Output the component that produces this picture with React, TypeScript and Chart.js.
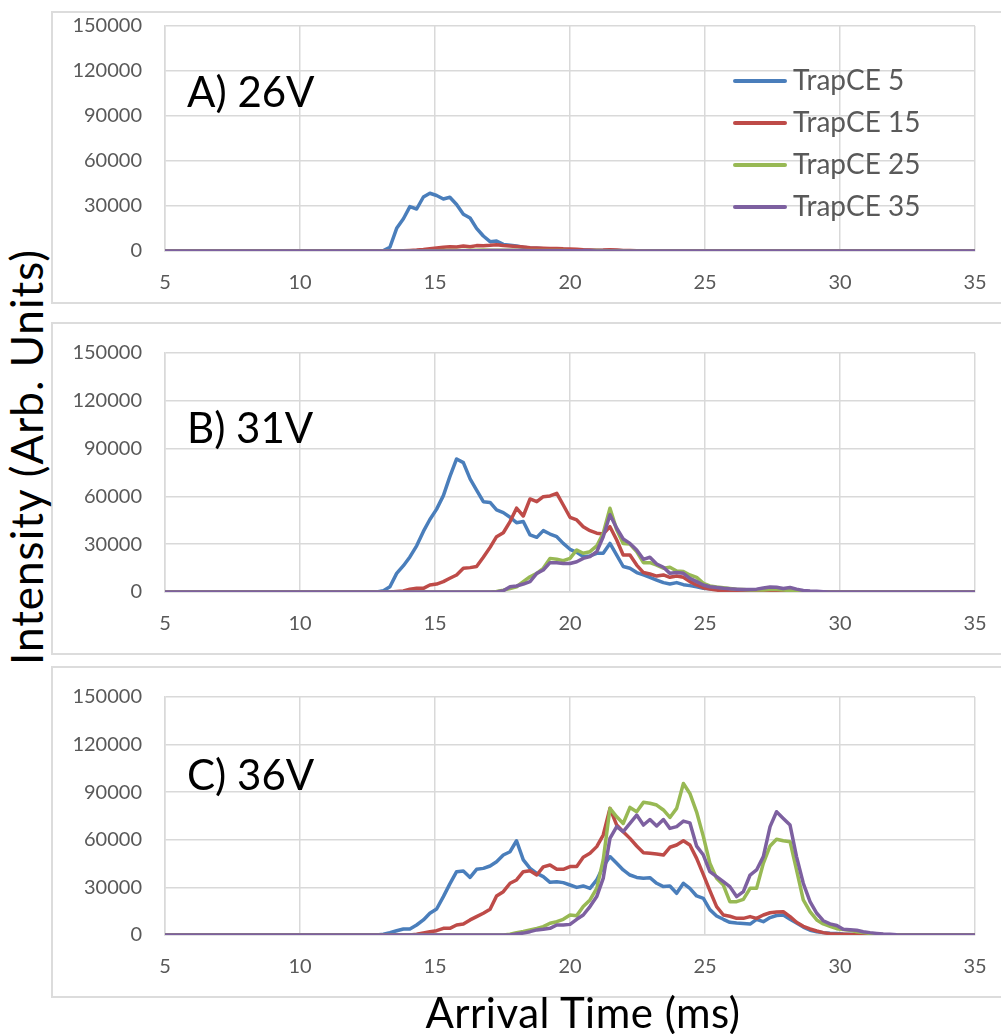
import React, { useEffect, useRef } from "react";
import { Chart, registerables } from "chart.js";

Chart.register(...registerables);

// ---------- DATA ----------
const SERIES_NAMES = ["TrapCE 5", "TrapCE 15", "TrapCE 25", "TrapCE 35"];
const X_TICKS = [5, 10, 15, 20, 25, 30, 35];
const Y_TICKS = [0, 30000, 60000, 90000, 120000, 150000];

// arrival time (ms)
const TIME = [
  5, 12.84, 13.09, 13.33, 13.58, 13.83, 14.07, 14.32, 14.57, 14.81, 15.06,
  15.31, 15.55, 15.8, 16.05, 16.3, 16.54, 16.79, 17.04, 17.28, 17.53,
  17.78, 18.02, 18.27, 18.52, 18.77, 19.01, 19.26, 19.51, 19.75, 20.0,
  20.25, 20.49, 20.74, 20.99, 21.23, 21.48, 21.73, 21.97, 22.22, 22.47,
  22.72, 22.96, 23.21, 23.46, 23.7, 23.95, 24.2, 24.44, 24.69, 24.94,
  25.18, 25.43, 25.68, 25.92, 26.17, 26.42, 26.67, 26.91, 27.16, 27.41,
  27.65, 27.9, 28.15, 28.39, 28.64, 28.89, 29.14, 29.38, 29.63, 29.88,
  30.12, 30.37, 30.62, 30.86, 31.11, 31.36, 31.6, 31.85, 32.1, 35,
];

// Panel A) 26V
const A_TRAP5 = [
  0, 0, 300, 2500, 15100, 21500, 29600, 28000, 36000, 38500, 37000,
  34700, 35800, 31000, 24500, 22000, 15100, 10000, 6200, 6700, 4400,
  3800, 3300, 2500, 2000, 1800, 1500, 1300, 1100, 1000, 800,
  700, 600, 500, 400, 400, 300, 300, 200, 200, 100,
  0, 0, 0, 0, 0, 0, 0, 0, 0, 0,
  0, 0, 0, 0, 0, 0, 0, 0, 0, 0,
  0, 0, 0, 0, 0, 0, 0, 0, 0, 0,
  0, 0, 0, 0, 0, 0, 0, 0, 0, 0,
];
const A_TRAP15 = [
  0, 0, 0, 0, 0, 200, 400, 600, 1000, 1500, 2000,
  2500, 2800, 2600, 3300, 2800, 3600, 3500, 3800, 4200, 3600,
  3300, 3000, 2600, 2200, 2000, 1800, 1600, 1700, 1500, 1400,
  1200, 900, 700, 500, 600, 900, 700, 400, 300, 200,
  100, 0, 0, 0, 0, 0, 0, 0, 0, 0,
  0, 0, 0, 0, 0, 0, 0, 0, 0, 0,
  0, 0, 0, 0, 0, 0, 0, 0, 0, 0,
  0, 0, 0, 0, 0, 0, 0, 0, 0, 0,
];
const A_TRAP25 = [
  0, 0, 0, 0, 0, 0, 0, 0, 0, 100, 200,
  300, 300, 400, 400, 500, 500, 600, 500, 500, 500,
  500, 500, 400, 400, 400, 300, 300, 300, 300, 200,
  200, 200, 200, 300, 200, 200, 100, 100, 0, 0,
  0, 0, 0, 0, 0, 0, 0, 0, 0, 0,
  0, 0, 0, 0, 0, 0, 0, 0, 0, 0,
  0, 0, 0, 0, 0, 0, 0, 0, 0, 0,
  0, 0, 0, 0, 0, 0, 0, 0, 0, 0,
];
const A_TRAP35 = [
  0, 0, 0, 0, 0, 0, 0, 0, 0, 0, 0,
  0, 0, 0, 100, 100, 200, 200, 300, 300, 300,
  300, 300, 300, 200, 200, 200, 200, 200, 100, 100,
  100, 100, 100, 0, 0, 0, 0, 0, 0, 0,
  0, 0, 0, 0, 0, 0, 0, 0, 0, 0,
  0, 0, 0, 0, 0, 0, 0, 0, 0, 0,
  0, 0, 0, 0, 0, 0, 0, 0, 0, 0,
  0, 0, 0, 0, 0, 0, 0, 0, 0, 0,
];

// Panel B) 31V
const B_TRAP5 = [
  0, 0, 800, 3300, 11700, 16500, 22000, 29000, 38000, 45500, 52000,
  60500, 72400, 83500, 81200, 71000, 64000, 56700, 56200, 51500, 49800,
  46900, 43500, 44200, 35800, 34300, 38500, 36400, 34700, 30500, 26800,
  24900, 22200, 22600, 24300, 24300, 30500, 23200, 16000, 14900, 12200,
  10700, 9200, 7500, 5900, 5000, 5900, 4600, 4000, 3300, 2300,
  2000, 1700, 1300, 900, 700, 500, 400, 300, 300, 500,
  700, 500, 300, 200, 100, 0, 0, 0, 0, 0,
  0, 0, 0, 0, 0, 0, 0, 0, 0, 0,
];
const B_TRAP15 = [
  0, 0, 0, 0, 300, 600, 1800, 2300, 2300, 4400, 5000,
  6500, 8600, 10700, 14900, 15300, 16000, 21800, 28000, 34700, 37200,
  44200, 52600, 47700, 58400, 56700, 59800, 60300, 61900, 54600, 46900,
  45200, 41000, 38500, 36900, 36400, 41000, 32600, 23200, 23200, 16900,
  12200, 11300, 10000, 10700, 9200, 10000, 9200, 6500, 4400, 2700,
  1800, 1200, 700, 400, 200, 100, 100, 200, 300, 400,
  400, 300, 200, 100, 0, 0, 0, 0, 0, 0,
  0, 0, 0, 0, 0, 0, 0, 0, 0, 0,
];
const B_TRAP25 = [
  0, 0, 0, 0, 0, 0, 0, 0, 0, 0, 0,
  0, 0, 0, 0, 0, 0, 0, 0, 300, 1200,
  2200, 3300, 6500, 9600, 11700, 14900, 21100, 20500, 19700, 21100,
  26400, 24300, 25300, 28900, 36900, 52600, 39000, 30500, 30100, 25300,
  18400, 18400, 16900, 14900, 15500, 13200, 12800, 10700, 9200, 5400,
  3800, 3200, 2700, 2200, 1700, 1500, 1300, 1200, 1300, 1600,
  1500, 1200, 1000, 700, 500, 300, 200, 0, 0, 0,
  0, 0, 0, 0, 0, 0, 0, 0, 0, 0,
];
const B_TRAP35 = [
  0, 0, 0, 0, 0, 0, 0, 0, 0, 0, 0,
  0, 0, 0, 0, 0, 0, 0, 0, 0, 800,
  3300, 3800, 5000, 6500, 11700, 13800, 18400, 18400, 17900, 17900,
  19000, 21100, 22200, 25300, 34700, 48500, 40000, 33300, 30500, 26400,
  20500, 21800, 17600, 15500, 11700, 12200, 11700, 8600, 6500, 4400,
  3300, 2800, 2300, 2000, 1800, 1500, 1500, 1800, 2500, 3200,
  3000, 2200, 2800, 1800, 1000, 600, 400, 200, 0, 0,
  0, 0, 0, 0, 0, 0, 0, 0, 0, 0,
];

// Panel C) 36V
const C_TRAP5 = [
  0, 0, 500, 1500, 2700, 3800, 3800, 6300, 9500, 13700, 16400,
  24200, 32200, 39900, 40300, 36300, 41400, 42000, 43500, 46200, 50400,
  52500, 59400, 47300, 42000, 38800, 36800, 33200, 33600, 33000, 31500,
  30000, 30900, 29400, 34700, 43100, 49400, 45200, 41000, 37800, 36300,
  35700, 36100, 32600, 30500, 30900, 26300, 32600, 29400, 24600, 23100,
  16000, 12000, 9900, 8000, 7500, 7200, 6900, 9900, 8400, 11000,
  12300, 12600, 9900, 7500, 5000, 3000, 2100, 1500, 1100, 900,
  600, 400, 200, 0, 0, 0, 0, 0, 0, 0,
];
const C_TRAP15 = [
  0, 0, 0, 0, 0, 0, 0, 500, 1300, 2100, 2700,
  4200, 4200, 6300, 6900, 9500, 11600, 13700, 16200, 24600, 27300,
  32600, 34700, 39900, 40500, 37800, 42900, 44100, 41400, 41400, 43100,
  43100, 49000, 51500, 55700, 63000, 79800, 69300, 65100, 60900, 56100,
  51900, 51500, 51000, 50400, 55300, 56700, 59400, 56700, 48300, 38000,
  28000, 17900, 12600, 11800, 10500, 10500, 11600, 10500, 12600, 14000,
  14500, 14700, 11600, 8000, 5500, 3800, 2500, 1500, 800, 500,
  400, 300, 200, 0, 0, 0, 0, 0, 0, 0,
];
const C_TRAP25 = [
  0, 0, 0, 0, 0, 0, 0, 0, 0, 0, 0,
  0, 0, 0, 0, 0, 0, 0, 0, 0, 0,
  500, 1500, 2200, 3200, 4200, 5300, 7400, 8400, 9900, 12600,
  12200, 17900, 22100, 29400, 47300, 79800, 74500, 70300, 80400, 77700,
  83600, 83000, 81900, 78800, 74100, 79800, 95500, 89200, 77500, 62000,
  45200, 35700, 31500, 21000, 21000, 22500, 29400, 29400, 45200, 56100,
  60300, 59400, 58800, 41000, 22100, 14700, 9500, 7000, 5500, 4000,
  3400, 3000, 2100, 1500, 1000, 600, 300, 100, 0, 0,
];
const C_TRAP35 = [
  0, 0, 0, 0, 0, 0, 0, 0, 0, 0, 0,
  0, 0, 0, 0, 0, 0, 0, 0, 0, 0,
  0, 600, 1200, 2100, 3200, 3600, 4200, 6300, 6300, 6700,
  9900, 12600, 17900, 24200, 35700, 60900, 68300, 65100, 70300, 75600,
  69300, 72800, 68700, 72800, 67200, 68300, 71800, 70700, 56000, 50400,
  39900, 36800, 33600, 30500, 24200, 27300, 37800, 41000, 49400, 68300,
  77700, 73500, 69300, 49400, 32600, 21000, 13700, 9000, 7000, 6000,
  3600, 3300, 3000, 2100, 1500, 1000, 600, 400, 200, 0,
];

// ---------- STYLE / LAYOUT ----------
const COLORS = ["#4A7EBB", "#BE4B48", "#98B954", "#7D60A0"];
const FONT = "Lato, 'Open Sans', sans-serif";
const GRID = "#D9D9D9";
const TICK_COLOR = "#595959";

const PLOT_LEFT = 113; // relative to canvas (canvas left = 52)
const CANVAS_W = 949;
const RIGHT_PAD = 26;

type PanelDef = {
  label: string;
  series: number[][];
  boxTop: number;
  boxBottom: number;
  plotTop: number;
  plotBottom: number;
  labelBaseline: number;
  legend: boolean;
};

const PANELS: PanelDef[] = [
  { label: "A) 26V", series: [A_TRAP5, A_TRAP15, A_TRAP25, A_TRAP35], boxTop: 12, boxBottom: 303, plotTop: 26, plotBottom: 251, labelBaseline: 107, legend: true },
  { label: "B) 31V", series: [B_TRAP5, B_TRAP15, B_TRAP25, B_TRAP35], boxTop: 323, boxBottom: 654, plotTop: 353, plotBottom: 592, labelBaseline: 443, legend: false },
  { label: "C) 36V", series: [C_TRAP5, C_TRAP15, C_TRAP25, C_TRAP35], boxTop: 667, boxBottom: 997, plotTop: 697, plotBottom: 935, labelBaseline: 790, legend: false },
];

function Panel({ def }: { def: PanelDef }) {
  const ref = useRef<HTMLCanvasElement | null>(null);
  const h = def.boxBottom - def.boxTop;
  useEffect(() => {
    if (!ref.current) return;
    const xAxisH = def.boxBottom - def.plotBottom;
    const topPad = def.plotTop - def.boxTop;
    const chart = new Chart(ref.current, {
      type: "line",
      data: {
        datasets: def.series.map((vals, i) => ({
          label: SERIES_NAMES[i],
          data: TIME.map((t, j) => ({ x: t, y: vals[j] })),
          borderColor: COLORS[i],
          backgroundColor: COLORS[i],
          borderWidth: 3.5,
          pointRadius: 0,
          pointHoverRadius: 0,
          tension: 0,
          fill: false,
          order: 4 - i,
          borderJoinStyle: "round" as const,
          borderCapStyle: "round" as const,
        })),
      },
      options: {
        responsive: false,
        animation: false,
        devicePixelRatio: 1,
        events: [],
        layout: { padding: { left: 0, top: topPad, right: RIGHT_PAD, bottom: 0 } },
        plugins: { legend: { display: false }, tooltip: { enabled: false }, title: { display: false } },
        scales: {
          x: {
            type: "linear",
            min: X_TICKS[0],
            max: X_TICKS[X_TICKS.length - 1],
            afterBuildTicks: (s: any) => {
              s.ticks = X_TICKS.map((v) => ({ value: v }));
            },
            ticks: {
              padding: 20,
              color: TICK_COLOR,
              font: { family: FONT, size: 20 },
              maxRotation: 0,
              autoSkip: false,
              callback: (v: any) => String(v),
            },
            grid: { color: GRID, lineWidth: 1.5, drawTicks: false },
            border: { color: GRID, width: 1.5 },
            afterFit: (s: any) => {
              s.height = xAxisH;
              s.paddingLeft = 0;
              s.paddingRight = 0;
            },
          },
          y: {
            type: "linear",
            min: Y_TICKS[0],
            max: Y_TICKS[Y_TICKS.length - 1],
            afterBuildTicks: (s: any) => {
              s.ticks = Y_TICKS.map((v) => ({ value: v }));
            },
            ticks: {
              padding: 23,
              color: TICK_COLOR,
              font: { family: FONT, size: 20 },
              callback: (v: any) => String(v),
            },
            grid: { color: GRID, lineWidth: 1.5, drawTicks: false },
            border: { color: GRID, width: 1.5 },
            afterFit: (s: any) => {
              s.width = PLOT_LEFT;
              s.paddingTop = 0;
              s.paddingBottom = 0;
            },
          },
        },
      },
    });
    return () => chart.destroy();
  }, [def]);

  const labelSize = 42;
  return (
    <>
      <div
        style={{
          position: "absolute",
          left: 51,
          top: def.boxTop - 1,
          width: 1100,
          height: h + 2,
          border: "2px solid #DCDCDC",
          boxSizing: "border-box",
        }}
      />
      <canvas
        ref={ref}
        width={CANVAS_W}
        height={h}
        style={{ position: "absolute", left: 52, top: def.boxTop, width: CANVAS_W, height: h }}
      />
      <div
        style={{
          position: "absolute",
          left: 187,
          top: def.labelBaseline - 0.887 * labelSize,
          fontFamily: FONT,
          fontSize: labelSize,
          lineHeight: 1,
          color: "#000",
          whiteSpace: "nowrap",
        }}
      >
        {def.label}
      </div>
      {def.legend &&
        SERIES_NAMES.map((name, i) => {
          const cy = 81 + i * 42;
          const fs = 28;
          return (
            <React.Fragment key={name}>
              <div
                style={{
                  position: "absolute",
                  left: 733,
                  top: cy - 2,
                  width: 54,
                  height: 4,
                  borderRadius: 2,
                  background: COLORS[i],
                }}
              />
              <div
                style={{
                  position: "absolute",
                  left: 793,
                  top: cy + 9 - 0.887 * fs,
                  fontFamily: FONT,
                  fontSize: fs,
                  lineHeight: 1,
                  color: TICK_COLOR,
                  whiteSpace: "nowrap",
                }}
              >
                {name}
              </div>
            </React.Fragment>
          );
        })}
    </>
  );
}

export default function App() {
  const yTitleSize = 44;
  const xTitleSize = 42;
  return (
    <div
      style={{
        position: "absolute",
        left: 0,
        top: 0,
        width: 1001,
        height: 1034,
        overflow: "hidden",
        background: "#fff",
      }}
    >
      {PANELS.map((p) => (
        <Panel key={p.label} def={p} />
      ))}
      <div
        style={{
          position: "absolute",
          left: 26 - 300,
          top: 456.5 - yTitleSize / 2,
          width: 600,
          height: yTitleSize,
          lineHeight: 1,
          fontFamily: FONT,
          fontSize: yTitleSize,
          letterSpacing: 1,
          textAlign: "center",
          color: "#000",
          transform: "rotate(-90deg)",
          whiteSpace: "nowrap",
        }}
      >
        Intensity (Arb. Units)
      </div>
      <div
        style={{
          position: "absolute",
          left: 383,
          width: 400,
          top: 1028 - 0.887 * xTitleSize,
          lineHeight: 1,
          fontFamily: FONT,
          fontSize: xTitleSize,
          letterSpacing: 0.5,
          textAlign: "center",
          color: "#000",
          whiteSpace: "nowrap",
        }}
      >
        Arrival Time (ms)
      </div>
    </div>
  );
}
